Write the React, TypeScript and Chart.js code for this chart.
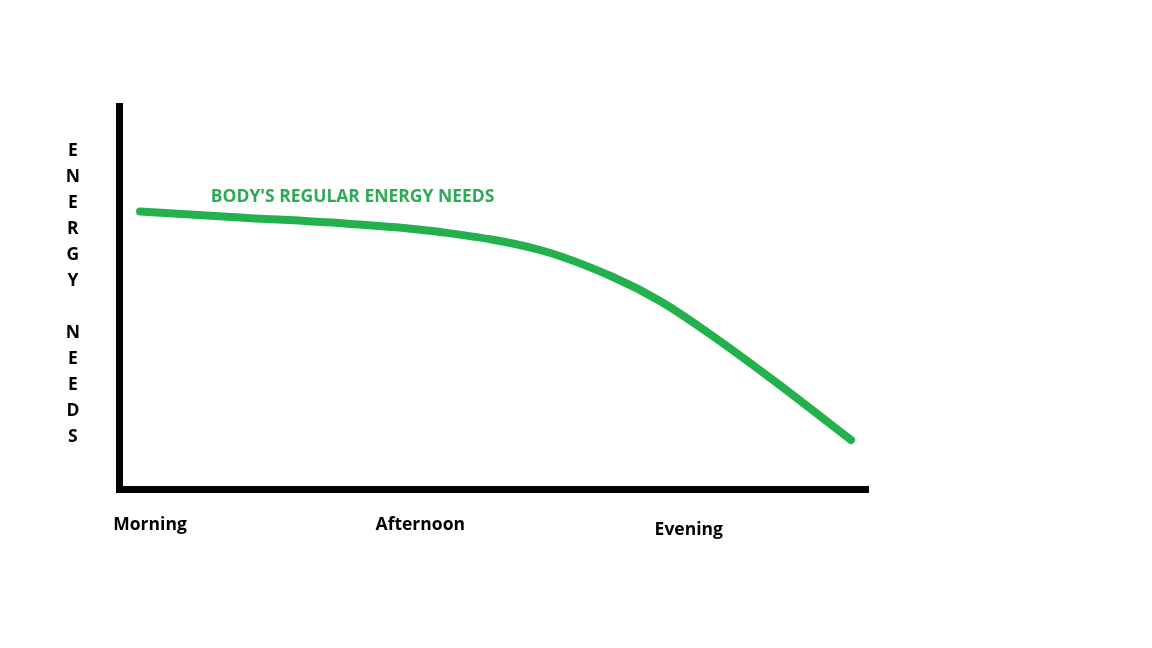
import React, { useEffect, useRef } from "react";
import { Chart, registerables } from "chart.js";

Chart.register(...registerables);

// ---- data ----
const timeLabels = ["Morning", "Afternoon", "Evening"];
const timeTickValues = [4.09, 40.32, 76.31];

const yLetters = ["E", "N", "E", "R", "G", "Y", "", "N", "E", "E", "D", "S"];
const yLetterValues = [88.3, 81.52, 74.73, 67.95, 61.16, 54.38, 47.6, 40.81, 34.03, 27.24, 20.46, 13.67];

const curveX = [2.75, 16.15, 30.23, 42.96, 56.37, 66.15, 72.45, 78.75, 87.6, 98.06];
const curveY = [72.55, 70.98, 69.41, 67.19, 62.48, 55.42, 49.15, 41.05, 28.5, 12.81];

const seriesLabel = "BODY'S REGULAR ENERGY NEEDS";
const seriesLabelAt = { x: 12.23, y: 75.11 };

const GREEN = "#22B14C";
const FONT = "'Open Sans', 'DejaVu Sans', sans-serif";

const seriesLabelPlugin = {
  id: "seriesLabel",
  afterDatasetsDraw(chart: any) {
    const { ctx, scales } = chart;
    const px = scales.x.getPixelForValue(seriesLabelAt.x);
    const py = scales.y.getPixelForValue(seriesLabelAt.y);
    ctx.save();
    ctx.font = `bold 17.5px ${FONT}`;
    ctx.fillStyle = "#2DAA55";
    ctx.textAlign = "left";
    ctx.textBaseline = "alphabetic";
    ctx.fillText(seriesLabel, px, py);
    ctx.restore();
  },
};

export default function App() {
  const canvasRef = useRef<HTMLCanvasElement | null>(null);

  useEffect(() => {
    document.body.style.margin = "0";
    const canvas = canvasRef.current;
    if (!canvas) return;
    const chart = new Chart(canvas, {
      type: "line",
      data: {
        datasets: [
          {
            label: seriesLabel,
            data: curveX.map((x, i) => ({ x, y: curveY[i] })),
            borderColor: GREEN,
            backgroundColor: GREEN,
            borderWidth: 8,
            borderCapStyle: "round",
            borderJoinStyle: "round",
            pointRadius: 0,
            cubicInterpolationMode: "monotone",
            fill: false,
          },
        ],
      },
      options: {
        animation: false,
        responsive: true,
        maintainAspectRatio: false,
        layout: { padding: { left: 27.5, right: 286.5, top: 106.5, bottom: 99 } },
        plugins: {
          legend: { display: false },
          tooltip: { enabled: false },
          title: { display: false },
        },
        scales: {
          x: {
            type: "linear",
            min: 0,
            max: 100,
            afterBuildTicks: (scale: any) => {
              scale.ticks = timeTickValues.map((v) => ({ value: v }));
            },
            afterFit: (scale: any) => {
              scale.height = 60;
            },
            grid: { display: true, color: "rgba(0,0,0,0)", lineWidth: 7, drawTicks: false, drawOnChartArea: false },
            border: { display: true, color: "#000", width: 7 },
            ticks: {
              autoSkip: false,
              maxRotation: 0,
              padding: 25.5,
              color: "#000",
              callback: (_v: any, i: number) => timeLabels[i],
              font: (ctx: any) => ({
                family: FONT,
                size: 17.5,
                weight: "bold",
                lineHeight: ctx.index === 2 ? 31 / 17.5 : 1.2,
              }),
            },
          },
          y: {
            type: "linear",
            min: 0,
            max: 100,
            afterBuildTicks: (scale: any) => {
              scale.ticks = yLetterValues.map((v) => ({ value: v }));
            },
            afterFit: (scale: any) => {
              scale.width = 92;
            },
            grid: { display: true, color: "rgba(0,0,0,0)", lineWidth: 7, drawTicks: false, drawOnChartArea: false },
            border: { display: true, color: "#000", width: 7 },
            ticks: {
              autoSkip: false,
              padding: 39.5,
              crossAlign: "center",
              color: "#000",
              callback: (_v: any, i: number) => yLetters[i],
              font: { family: FONT, size: 17.5, weight: "bold" },
            },
          },
        },
      },
      plugins: [seriesLabelPlugin],
    } as any);
    return () => chart.destroy();
  }, []);

  return (
    <div style={{ width: 1152, height: 648, position: "relative", background: "#fff" }}>
      <canvas ref={canvasRef} />
    </div>
  );
}
